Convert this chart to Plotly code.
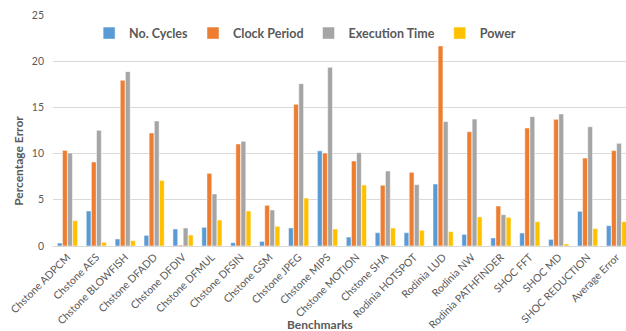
import plotly.graph_objects as go

benchmarks = [
    "Chstone ADPCM", "Chstone AES", "Chstone BLOWFISH", "Chstone DFADD",
    "Chstone DFDIV", "Chstone DFMUL", "Chstone DFSIN", "Chstone GSM",
    "Chstone JPEG", "Chstone MIPS", "Chstone MOTION", "Chstone SHA",
    "Rodinia HOTSPOT", "Rodinia LUD", "Rodinia NW", "Rodinia PATHFINDER",
    "SHOC FFT", "SHOC MD", "SHOC REDUCTION", "Average Error",
]

no_cycles = [0.32, 3.79, 0.76, 1.15, 1.84, 2.02, 0.36, 0.50, 1.95, 10.3,
             0.97, 1.44, 1.44, 6.71, 1.26, 0.87, 1.41, 0.72, 3.75, 2.20]
clock_period = [10.35, 9.09, 17.93, 12.23, 0.10, 7.86, 11.04, 4.40, 15.33, 10.06,
                9.20, 6.57, 7.97, 21.65, 12.37, 4.33, 12.77, 13.71, 9.52, 10.32]
execution_time = [10.06, 12.52, 18.87, 13.53, 1.95, 5.63, 11.33, 3.90, 17.57, 19.34,
                  10.10, 8.12, 6.64, 13.46, 13.74, 3.39, 14.00, 14.29, 12.91, 11.11]
power = [2.74, 0.40, 0.58, 7.10, 1.19, 2.81, 3.79, 2.13, 5.19, 1.84,
         6.60, 1.95, 1.70, 1.55, 3.14, 3.10, 2.63, 0.22, 1.88, 2.63]

series = [
    ("No. Cycles", no_cycles, "#5B9BD5"),
    ("Clock Period", clock_period, "#ED7D31"),
    ("Execution Time", execution_time, "#A5A5A5"),
    ("Power", power, "#FFC000"),
]

text_color = "#595959"
grid_color = "#D9D9D9"
font_family = "Lato, 'Open Sans', sans-serif"

fig = go.Figure()
for name, values, color in series:
    fig.add_trace(go.Bar(
        x=list(range(len(benchmarks))),
        y=values,
        name=name,
        marker=dict(color=color, line=dict(color="white", width=0.5)),
    ))

fig.update_layout(
    width=626,
    height=331,
    margin=dict(l=53, r=0, t=15, b=85),
    paper_bgcolor="white",
    plot_bgcolor="white",
    barmode="group",
    bargap=0.29,
    bargroupgap=0.06,
    font=dict(family=font_family, color=text_color, size=11),
    showlegend=True,
    legend=dict(
        orientation="h",
        x=0.44, xanchor="center",
        y=0.92, yanchor="middle",
        font=dict(size=12.5, color=text_color, family=font_family, weight="bold"),
        bgcolor="rgba(0,0,0,0)",
        itemwidth=30,
        traceorder="normal",
    ),
    xaxis=dict(
        tickmode="array",
        tickvals=list(range(len(benchmarks))),
        ticktext=benchmarks,
        tickangle=-45,
        # the last group runs past the right edge of the chart
        range=[-0.5, 19.33],
        automargin=False,
        showgrid=False,
        showline=True,
        linecolor=grid_color,
        linewidth=1,
        ticks="",
        tickfont=dict(size=10.5, color=text_color),
        zeroline=False,
    ),
    yaxis=dict(
        range=[0, 25],
        dtick=5,
        automargin=False,
        showgrid=True,
        gridcolor=grid_color,
        gridwidth=1,
        zeroline=False,
        showline=False,
        ticks="",
        ticklabelstandoff=8,
        tickfont=dict(size=10.5, color=text_color),
    ),
    annotations=[
        dict(text="<b>Percentage Error</b>", xref="paper", yref="paper",
             x=-0.0605, y=0.37, xanchor="center", yanchor="middle",
             showarrow=False, textangle=-90,
             font=dict(size=12, color=text_color)),
        dict(text="<b>Benchmarks</b>", xref="paper", yref="paper",
             x=0.466, y=-0.338, xanchor="center", yanchor="middle",
             showarrow=False, font=dict(size=12, color=text_color)),
    ],
)

fig.write_html("out.html")
